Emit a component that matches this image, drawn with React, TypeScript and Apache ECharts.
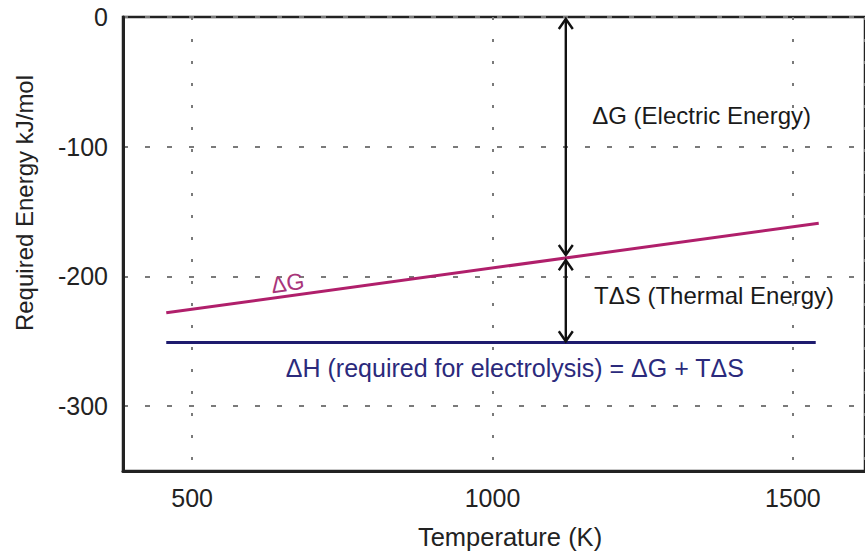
import React, { useEffect, useRef } from 'react';
import * as echarts from 'echarts';

const FONT = '"Liberation Sans", Arial, Helvetica, sans-serif';

// Data
const temperatureK = [457, 1543];
const deltaG = [-228, -159];
const deltaHTemps = [457, 1538];
const deltaH = [-251, -251];

// Double-headed arrows: x, from, to (kJ/mol)
const arrowX = [1122, 1122];
const arrowFrom = [-1.5, -187.5];
const arrowTo = [-183.5, -250];

// Annotation texts anchored in data coordinates
const annotationText = [
  'ΔG (Electric Energy)',
  'TΔS (Thermal Energy)',
  'ΔH (required for electrolysis) = ΔG + TΔS',
  'ΔG',
];
const annotationX = [1166, 1169, 656, 659];
const annotationY = [-75.6, -215, -270.6, -205];

const annotationColors = ['#1a1a1a', '#1a1a1a', '#2b2a7c', '#a8357a'];
const annotationSizes = [24, 24, 25, 23];

export default function App() {
  const ref = useRef<HTMLDivElement>(null);

  useEffect(() => {
    if (!ref.current) return;
    const chart = echarts.init(ref.current, undefined, { renderer: 'svg' });

    const annotationData = annotationText.map((t, i) => {
      const isDG = i === 3;
      return {
        name: t,
        value: [annotationX[i], annotationY[i]],
        label: isDG
          ? {
              show: true,
              position: 'inside',
              rotate: 8,
              fontSize: annotationSizes[i],
              color: annotationColors[i],
              fontFamily: FONT,
              opacity: 1,
            }
          : {
              show: true,
              position: 'right',
              distance: 0,
              fontSize: annotationSizes[i],
              color: annotationColors[i],
              fontFamily: FONT,
              opacity: 1,
            },
      };
    });

    const option: any = {
      animation: false,
      grid: {
        left: 123,
        top: 17,
        width: 757,
        height: 454,
        show: true,
        borderColor: '#222',
        borderWidth: 2.5,
        backgroundColor: 'transparent',
      },
      xAxis: {
        type: 'value',
        min: 385,
        max: 1620,
        minInterval: 500,
        maxInterval: 500,
        axisLine: { show: true, onZero: false, lineStyle: { color: '#222', width: 3 } },
        axisTick: { show: false },
        axisLabel: {
          showMinLabel: false,
          showMaxLabel: false,
          fontSize: 25,
          color: '#222',
          fontFamily: FONT,
          margin: 14,
          formatter: (v: number) => String(v),
        },
        splitLine: {
          show: true,
          lineStyle: { color: '#7a7a7a', width: 2, type: [3, 19] },
        },
      },
      yAxis: {
        type: 'value',
        min: -350,
        max: 0,
        minInterval: 100,
        maxInterval: 100,
        axisLine: { show: true, onZero: false, lineStyle: { color: '#222', width: 3 } },
        axisTick: { show: false },
        axisLabel: {
          showMinLabel: false,
          fontSize: 25,
          color: '#222',
          fontFamily: FONT,
          margin: 15,
          formatter: (v: number) => String(v),
        },
        splitLine: {
          show: true,
          lineStyle: { color: '#7a7a7a', width: 2, type: [5, 17] },
        },
      },
      graphic: [
        {
          type: 'text',
          x: 24,
          y: 203,
          rotation: Math.PI / 2,
          style: {
            text: 'Required Energy kJ/mol',
            fontSize: 24,
            fontFamily: FONT,
            fill: '#222',
            align: 'center',
            verticalAlign: 'middle',
          },
        },
        {
          type: 'text',
          x: 510,
          y: 537,
          style: {
            text: 'Temperature (K)',
            fontSize: 25.5,
            fontFamily: FONT,
            fill: '#222',
            align: 'center',
            verticalAlign: 'middle',
          },
        },
      ],
      series: [
        {
          type: 'line',
          name: 'ΔG',
          data: temperatureK.map((t, i) => [t, deltaG[i]]),
          showSymbol: false,
          lineStyle: { color: '#b01f6b', width: 3 },
          z: 3,
        },
        {
          type: 'line',
          name: 'ΔH',
          data: deltaHTemps.map((t, i) => [t, deltaH[i]]),
          showSymbol: false,
          lineStyle: { color: '#1e1b6e', width: 3 },
          z: 3,
        },
        {
          type: 'custom',
          name: 'arrows',
          data: arrowX.map((x, i) => [x, arrowFrom[i], arrowTo[i]]),
          encode: { x: 0, y: [1, 2] },
          z: 4,
          renderItem: (params: any, api: any) => {
            const x = api.value(0);
            const p1 = api.coord([x, api.value(1)]);
            const p2 = api.coord([x, api.value(2)]);
            const s = { stroke: '#111', lineWidth: 2.4, fill: 'none' };
            return {
              type: 'group',
              children: [
                { type: 'line', shape: { x1: p1[0], y1: p1[1], x2: p2[0], y2: p2[1] }, style: s },
                {
                  type: 'polyline',
                  shape: { points: [[p1[0] - 7, p1[1] + 10], [p1[0], p1[1]], [p1[0] + 7, p1[1] + 10]] },
                  style: s,
                },
                {
                  type: 'polyline',
                  shape: { points: [[p2[0] - 7, p2[1] - 10], [p2[0], p2[1]], [p2[0] + 7, p2[1] - 10]] },
                  style: s,
                },
              ],
            };
          },
        },
        {
          type: 'scatter',
          name: 'annotations',
          symbolSize: 0,
          itemStyle: { opacity: 1 },
          data: annotationData,
          label: { show: true, formatter: '{b}' },
          z: 5,
        },
      ],
    };

    chart.setOption(option);
    return () => chart.dispose();
  }, []);

  return (
    <div
      ref={ref}
      style={{ position: 'absolute', left: 0, top: 0, width: 865, height: 556, background: '#fff' }}
    />
  );
}
